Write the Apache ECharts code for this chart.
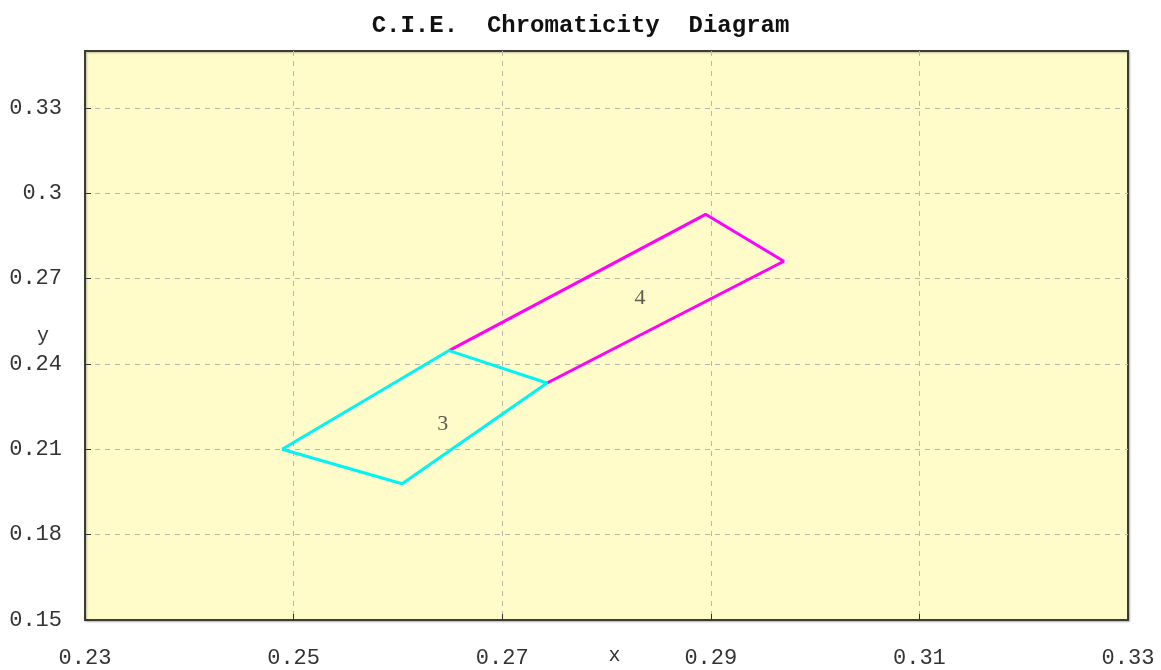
<!DOCTYPE html>
<html>
<head>
<meta charset="utf-8">
<script src="https://cdn.jsdelivr.net/npm/echarts@6/dist/echarts.min.js"></script>
<style>html,body{margin:0;padding:0;background:#fff;}#c{width:1161px;height:670px;}</style>
</head>
<body>
<div id="c"></div>
<script>
// Data
var titleText = 'C.I.E.  Chromaticity  Diagram';
var xTickLabels = ['0.23', '0.25', '0.27', '0.29', '0.31', '0.33'];
var yTickLabels = ['0.15', '0.18', '0.21', '0.24', '0.27', '0.3', '0.33'];
var region3 = [[0.2489, 0.2100], [0.2604, 0.1979], [0.2743, 0.2333], [0.2649, 0.2447], [0.2489, 0.2100]];
var region4 = [[0.2649, 0.2447], [0.2895, 0.2926], [0.2970, 0.2761], [0.2743, 0.2333]];
var regionLabels = [['3', 0.2643, 0.2189], ['4', 0.2832, 0.2630]];

var chart = echarts.init(document.getElementById('c'));
var axisFont = 'Liberation Mono, DejaVu Sans Mono, monospace';
chart.setOption({
  backgroundColor: '#ffffff',
  animation: false,
  title: {
    text: titleText, left: 'center', top: 9,
    textStyle: { fontFamily: axisFont, fontWeight: 'bold', fontSize: 24, color: '#111' }
  },
  grid: {
    left: 85, right: 33, top: 51, bottom: 50,
    outerBoundsMode: 'none', containLabel: false,
    show: true, backgroundColor: '#fffcca', borderColor: '#3c3c38', borderWidth: 2,
    shadowColor: 'rgba(0,0,0,0.25)', shadowBlur: 2, shadowOffsetX: 1, shadowOffsetY: 1
  },
  xAxis: [{
    type: 'value', min: 0, max: 10, interval: 2,
    name: 'x', nameLocation: 'middle', nameGap: 26, nameMoveOverlap: false,
    nameTextStyle: { fontFamily: axisFont, fontSize: 20, color: '#333', padding: [0, 0, 0, 16] },
    axisLine: { show: false },
    axisTick: { show: true, inside: true, length: 6, lineStyle: { color: '#333', width: 1 } },
    axisLabel: {
      margin: 27, fontFamily: axisFont, fontSize: 22, color: '#333',
      formatter: function (v) { return xTickLabels[Math.round(v / 2)]; }
    },
    splitLine: { show: true, showMinLine: false, showMaxLine: false, lineStyle: { color: '#b8b8b0', type: [5, 5], width: 1 } }
  }, {
    type: 'value', min: 0.23, max: 0.33, show: false
  }],
  yAxis: [{
    type: 'value', min: 15, max: 35, interval: 3,
    name: 'y', nameLocation: 'middle', nameGap: 36, nameRotate: 0, nameMoveOverlap: false,
    nameTextStyle: { fontFamily: axisFont, fontSize: 20, color: '#333', padding: [0, 0, 20, 0] },
    axisLine: { show: false },
    axisTick: { show: true, inside: true, length: 6, lineStyle: { color: '#333', width: 1 } },
    axisLabel: {
      margin: 23, fontFamily: axisFont, fontSize: 22, color: '#333', showMaxLabel: false,
      formatter: function (v) { var i = Math.round((v - 15) / 3); return yTickLabels[i] === undefined ? '' : yTickLabels[i]; }
    },
    splitLine: { show: true, showMinLine: false, showMaxLine: false, lineStyle: { color: '#b8b8b0', type: [5, 5], width: 1 } }
  }, {
    type: 'value', min: 0.15, max: 0.35, show: false
  }],
  series: [{
    type: 'line', xAxisIndex: 1, yAxisIndex: 1, data: region4, symbol: 'none',
    lineStyle: { color: '#ff00ff', width: 3 }, silent: true
  }, {
    type: 'line', xAxisIndex: 1, yAxisIndex: 1, data: region3, symbol: 'none',
    lineStyle: { color: '#00f4f4', width: 3 }, silent: true
  }, {
    type: 'scatter', xAxisIndex: 1, yAxisIndex: 1, symbolSize: 0,
    data: regionLabels.map(function (d) { return { name: d[0], value: [d[1], d[2]] }; }),
    label: { show: true, position: 'inside', formatter: '{b}', fontFamily: 'Liberation Serif, serif', fontSize: 22, color: '#333' }
  }]
});
</script>
</body>
</html>
